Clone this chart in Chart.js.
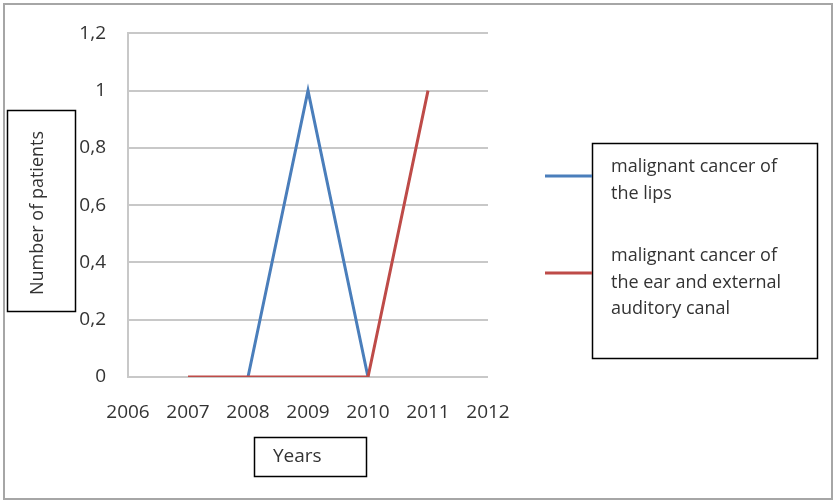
<!DOCTYPE html>
<html>
<head>
<meta charset="utf-8">
<title>Number of patients by year</title>
<script src="https://cdn.jsdelivr.net/npm/chart.js@4.4.0/dist/chart.umd.min.js"></script>
<style>
  html, body { margin: 0; padding: 0; background: #fff; }
  #wrap { position: relative; width: 834px; height: 502px; }
</style>
</head>
<body>
<div id="wrap"><canvas id="chart" width="834" height="502"></canvas></div>
<script>
  // Data
  const years = ['2006', '2007', '2008', '2009', '2010', '2011', '2012'];
  const lipsValues = [null, null, 0, 1, 0, null, null];
  const earValues = [null, 0, 0, 0, 0, 1, null];
  const seriesNames = [
    ['malignant cancer of', 'the lips'],
    ['malignant cancer of', 'the ear and external', 'auditory canal']
  ];
  const yTicks = [0, 0.2, 0.4, 0.6, 0.8, 1, 1.2];
  const yTitle = 'Number of patients';
  const xTitle = 'Years';

  const FONT = '"Open Sans", "DejaVu Sans", sans-serif';
  const TEXT = '#333333';
  const BLUE = '#4a7ebb';
  const RED = '#be4b48';

  // Frame, boxed axis titles and the boxed legend (Excel style)
  const decorations = {
    id: 'decorations',
    afterDraw(chart) {
      const ctx = chart.ctx;
      ctx.save();

      // outer frame
      ctx.strokeStyle = '#a6a6a6';
      ctx.lineWidth = 2;
      ctx.strokeRect(4, 4, 828, 495);

      ctx.strokeStyle = '#000';
      ctx.lineWidth = 1.5;
      ctx.fillStyle = TEXT;

      // y axis title box
      ctx.strokeRect(7.5, 110.5, 68, 201);
      ctx.save();
      ctx.translate(38, 213);
      ctx.rotate(-Math.PI / 2);
      ctx.font = '18px ' + FONT;
      ctx.textAlign = 'center';
      ctx.textBaseline = 'middle';
      ctx.fillText(yTitle, 0, 0);
      ctx.restore();

      // x axis title box
      ctx.strokeRect(254.5, 437.5, 112, 39);
      ctx.font = '19px ' + FONT;
      ctx.textAlign = 'left';
      ctx.textBaseline = 'middle';
      ctx.fillText(xTitle, 273, 457);

      // legend box
      ctx.strokeRect(592.5, 143.5, 225, 215);
      const colors = chart.data.datasets.map(d => d.borderColor);
      const markerY = [176, 273];
      const firstLineY = [167, 256];
      ctx.font = '18px ' + FONT;
      seriesNames.forEach((lines, i) => {
        ctx.strokeStyle = colors[i];
        ctx.lineWidth = 3;
        ctx.beginPath();
        ctx.moveTo(545, markerY[i]);
        ctx.lineTo(592, markerY[i]);
        ctx.stroke();
        ctx.fillStyle = TEXT;
        lines.forEach((t, j) => ctx.fillText(t, 611, firstLineY[i] + j * 26.5));
      });

      ctx.restore();
    }
  };

  new Chart(document.getElementById('chart'), {
    type: 'line',
    data: {
      labels: years,
      datasets: [
        { label: seriesNames[0].join(' '), data: lipsValues, borderColor: BLUE, borderWidth: 3, pointRadius: 0, spanGaps: false, order: 2 },
        { label: seriesNames[1].join(' '), data: earValues, borderColor: RED, borderWidth: 3, pointRadius: 0, spanGaps: false, order: 1 }
      ]
    },
    options: {
      responsive: false,
      animation: false,
      layout: { padding: { top: 29, right: 346, left: 0, bottom: 0 } },
      plugins: { legend: { display: false }, tooltip: { enabled: false } },
      scales: {
        x: {
          offset: false,
          grid: { display: false, drawTicks: false },
          border: { display: false },
          ticks: { color: TEXT, font: { family: FONT, size: 19 }, padding: 24, maxRotation: 0, autoSkip: false },
          afterFit(scale) { scale.height = 125; }
        },
        y: {
          min: 0,
          max: 1.2,
          afterBuildTicks(scale) { scale.ticks = yTicks.map(v => ({ value: v })); },
          grid: { color: '#c8c8c8', lineWidth: 2, drawTicks: false },
          border: { display: true, color: '#c8c8c8', width: 2 },
          ticks: {
            color: TEXT,
            font: { family: FONT, size: 19 },
            padding: 22,
            callback: v => String(Math.round(v * 10) / 10).replace('.', ',')
          },
          afterFit(scale) { scale.width = 128; }
        }
      }
    },
    plugins: [decorations]
  });
</script>
</body>
</html>
